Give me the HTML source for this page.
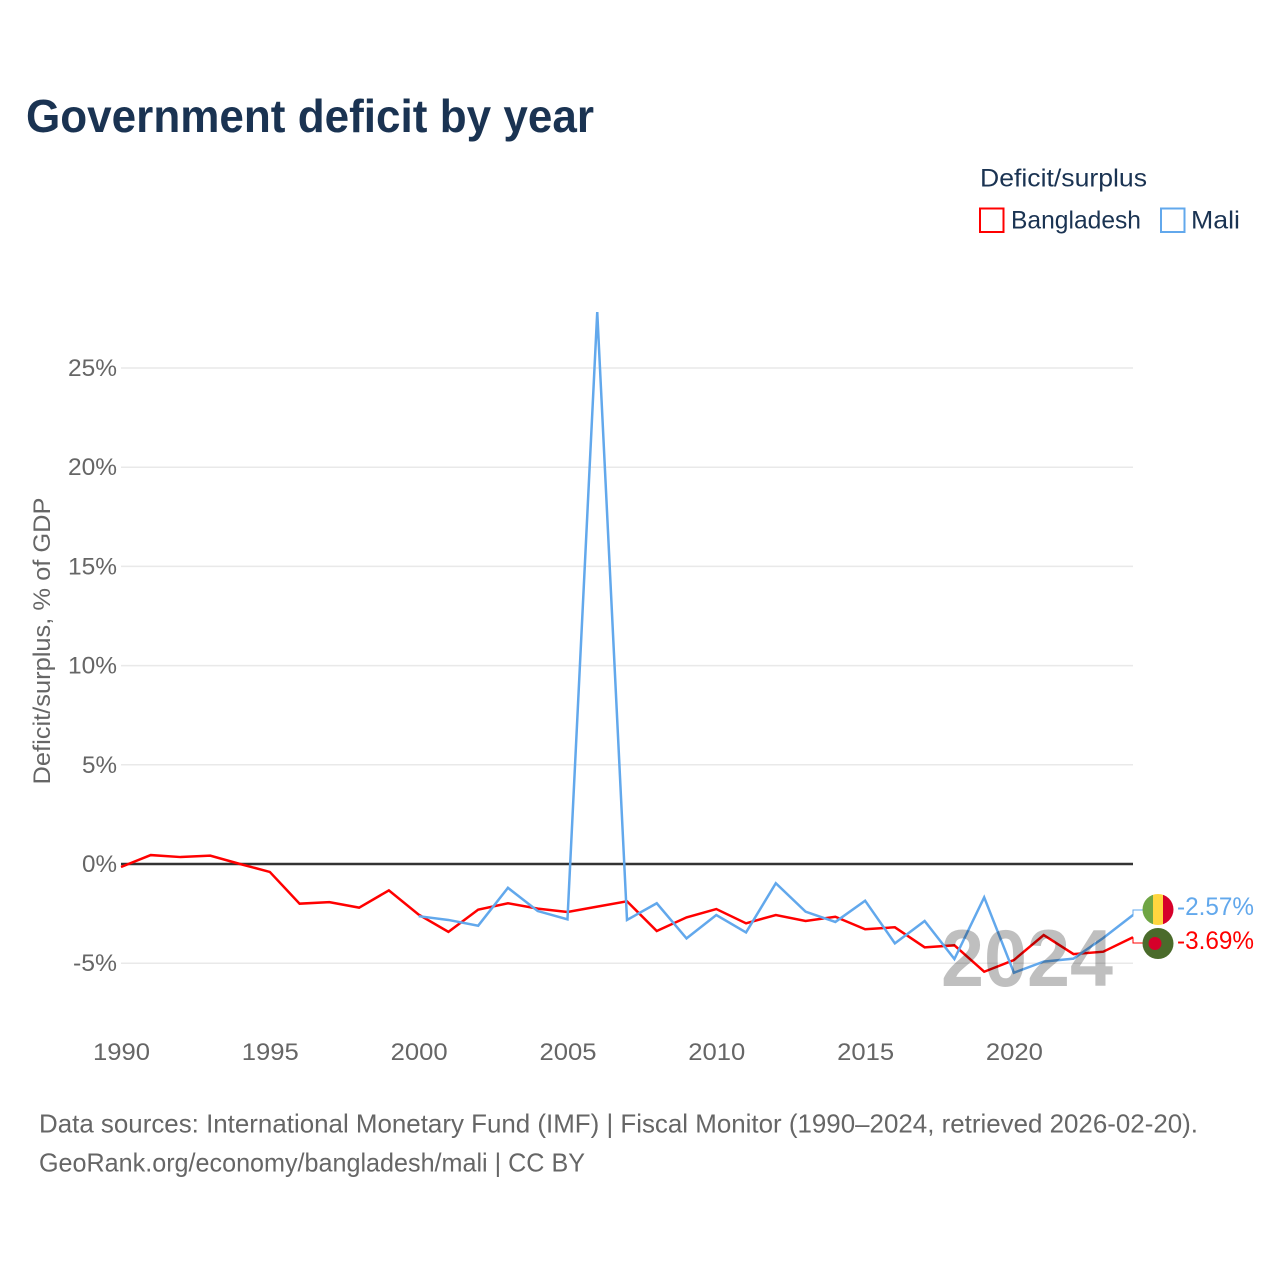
<!DOCTYPE html>
<html>
<head>
<meta charset="utf-8">
<title>Government deficit by year</title>
<style>
html,body{margin:0;padding:0;background:#fff;width:1280px;height:1280px;overflow:hidden}
svg{display:block}
text{font-family:"Liberation Sans",sans-serif}
</style>
</head>
<body>
<svg id="chart" xmlns="http://www.w3.org/2000/svg" width="1280" height="1280" viewBox="0 0 1280 1280">
  <rect x="0" y="0" width="1280" height="1280" fill="#fff"/>
  <text x="26" y="132" font-size="46" font-weight="700" fill="#1a3352" textLength="568" lengthAdjust="spacingAndGlyphs">Government deficit by year</text>
  <text x="980" y="186.500" font-size="25" fill="#1a3352" textLength="167" lengthAdjust="spacingAndGlyphs">Deficit/surplus</text>
  <g>
    <rect x="980" y="208.500" width="23.500" height="23.500" fill="#fff" stroke="#ff0000" stroke-width="2"/>
    <text x="1011" y="228.500" font-size="25" fill="#1a3352" textLength="130" lengthAdjust="spacingAndGlyphs">Bangladesh</text>
  </g>
  <g>
    <rect x="1161" y="208.500" width="23.500" height="23.500" fill="#fff" stroke="#62a8ec" stroke-width="2"/>
    <text x="1191" y="228.500" font-size="25" fill="#1a3352" textLength="49" lengthAdjust="spacingAndGlyphs">Mali</text>
  </g>
  <text transform="translate(50,641) rotate(-90)" text-anchor="middle" font-size="24" fill="#666" textLength="287" lengthAdjust="spacingAndGlyphs">Deficit/surplus, % of GDP</text>
  <g id="grid"></g>
  <g id="yTicks"></g>
  <g id="xTicks"></g>
  <g id="series"></g>
  <text x="941" y="986" font-size="81" font-weight="700" fill="#000" fill-opacity="0.25" textLength="172" lengthAdjust="spacingAndGlyphs">2024</text>
  <g id="endLabels"></g>
  <g>
    <clipPath id="clipMali"><circle cx="1158" cy="909.500" r="15.500"/></clipPath>
    <g clip-path="url(#clipMali)">
      <rect x="1142" y="894" width="11" height="31" fill="#6fa544"/>
      <rect x="1153" y="894" width="10" height="31" fill="#ffd63f"/>
      <rect x="1163" y="894" width="11" height="31" fill="#d6002a"/>
    </g>
  </g>
  <g>
    <circle cx="1158" cy="943.500" r="15.500" fill="#4a6b2b"/>
    <circle cx="1155" cy="943.500" r="6.500" fill="#d6002a"/>
  </g>
  <text x="39" y="1132.500" font-size="26" fill="#666" textLength="1159" lengthAdjust="spacingAndGlyphs">Data sources: International Monetary Fund (IMF) | Fiscal Monitor (1990–2024, retrieved 2026-02-20).</text>
  <text x="39" y="1171.500" font-size="26" fill="#666" textLength="546" lengthAdjust="spacingAndGlyphs">GeoRank.org/economy/bangladesh/mali | CC BY</text>
</svg>
<script>
const years = [1990,1991,1992,1993,1994,1995,1996,1997,1998,1999,2000,2001,2002,2003,2004,2005,2006,2007,2008,2009,2010,2011,2012,2013,2014,2015,2016,2017,2018,2019,2020,2021,2022,2023,2024];
const bangladeshValues = [-0.15,0.45,0.35,0.42,0.0,-0.4,-2.0,-1.92,-2.2,-1.33,-2.55,-3.42,-2.3,-1.98,-2.25,-2.42,-2.15,-1.88,-3.38,-2.69,-2.27,-2.99,-2.57,-2.87,-2.66,-3.29,-3.19,-4.2,-4.1,-5.43,-4.84,-3.58,-4.54,-4.42,-3.69];
const maliValues = [null,null,null,null,null,null,null,null,null,null,-2.63,-2.82,-3.11,-1.2,-2.37,-2.79,27.82,-2.82,-1.98,-3.75,-2.57,-3.45,-0.97,-2.4,-2.92,-1.85,-4.0,-2.87,-4.79,-1.68,-5.48,-4.92,-4.77,-3.73,-2.57];
const yTickValues = [-5,0,5,10,15,20,25];
const xTickValues = [1990,1995,2000,2005,2010,2015,2020];

const NS = 'http://www.w3.org/2000/svg';
function xScale(year){ return 121 + (year - 1990) * (1133 - 121) / 34; }
function yScale(v){ return 864 - v * 19.84; }
function make(tag, attrs, parent){
  const el = document.createElementNS(NS, tag);
  for (const k in attrs) el.setAttribute(k, attrs[k]);
  parent.appendChild(el);
  return el;
}
const grid = document.getElementById('grid');
const yTicks = document.getElementById('yTicks');
const xTicks = document.getElementById('xTicks');
const series = document.getElementById('series');
const endLabels = document.getElementById('endLabels');

yTickValues.forEach(function(v){
  const line = make('line', {x1:121, x2:1133, y1:yScale(v), y2:yScale(v), stroke:v === 0 ? 'none' : '#e9e9e9', 'stroke-width':1.5}, grid);
  
  
  const label = make('text', {x:117, y:yScale(v) + 8, 'text-anchor':'end', 'font-size':24, fill:'#666', textLength:String(v).length === 1 ? 35 : (v === -5 ? 44 : 49), lengthAdjust:'spacingAndGlyphs'}, yTicks);
  label.textContent = v + '%';
  
  
});
const zero = make('line', {x1:121, x2:1133, y1:yScale(0), y2:yScale(0), stroke:'#333', 'stroke-width':2.5}, grid);



xTickValues.forEach(function(y){
  const label = make('text', {x:xScale(y) + 0.5, y:1060, 'text-anchor':'middle', 'font-size':24, fill:'#666', textLength:57, lengthAdjust:'spacingAndGlyphs'}, xTicks);
  label.textContent = y;
  
  
});

function pathFor(values){
  let d = '';
  values.forEach(function(v, i){
    if (v === null) return;
    d += (d ? 'L' : 'M') + xScale(years[i]).toFixed(2) + ' ' + yScale(v).toFixed(2);
  });
  return d;
}
const bangladeshLine = make('path', {d:pathFor(bangladeshValues), fill:'none', stroke:'#ff0000', 'stroke-width':2.5, 'stroke-linejoin':'miter'}, series);


const maliLine = make('path', {d:pathFor(maliValues), fill:'none', stroke:'#62a8ec', 'stroke-width':2.5, 'stroke-linejoin':'miter'}, series);



function endLabel(values, color, flagY, baseline, nameLabel, nameLink){
  const last = values[values.length - 1];
  const yEnd = yScale(last);
  const link = make('path', {d:'M1133 ' + yEnd.toFixed(2) + 'L1133 ' + flagY + 'L1143 ' + flagY, fill:'none', stroke:color, 'stroke-width':1}, endLabels);
  
  
  const t = make('text', {x:1177, y:baseline, 'font-size':25, fill:color, textLength:77, lengthAdjust:'spacingAndGlyphs'}, endLabels);
  t.textContent = last.toFixed(2) + '%';
  
  
}
endLabel(maliValues, '#62a8ec', 910, 915, 'mali-end-label', 'mali-end-connector');
endLabel(bangladeshValues, '#ff0000', 943, 949, 'bangladesh-end-label', 'bangladesh-end-connector');
</script>
</body>
</html>
